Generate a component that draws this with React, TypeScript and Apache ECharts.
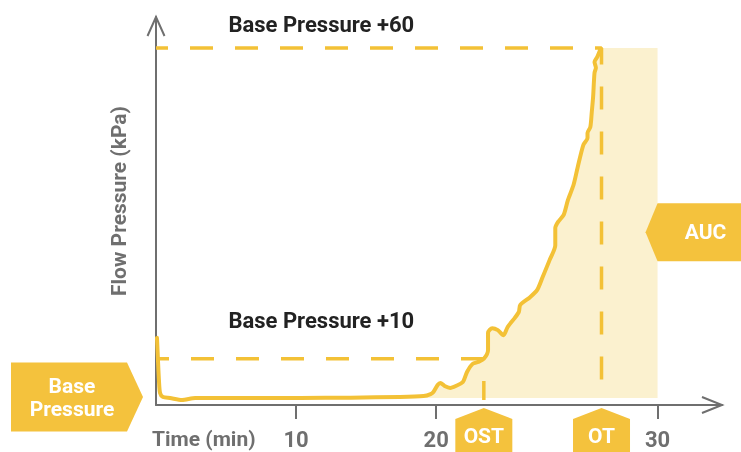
import React, { useEffect, useRef } from 'react';
import * as echarts from 'echarts';

// Schematic axes (no numeric y ticks in the original)
const X_MAX = 40.4;
const Y_MAX = 100;
const BASE = 1.8;
const BASE_PLUS_10 = 11.9;
const BASE_PLUS_60 = 92;
const OST_X = 23.4;
const OT_X = 31.8;
const AUC_END_X = 35.8;
const AUC_LABEL_Y = 44.5;
const DASH_BOTTOM = 1.3;
const LABEL_X = 11.8;
const FILL_START_X = 19;

const TICK_VALUES = [10, 20, 35.8];
const TICK_LABELS = ['10', '20', '30'];

const CURVE_X = [
  0.07, 0.14, 0.21, 0.29, 0.5, 1.0, 1.86, 2.8, 6.7, 10.3, 13.9, 17.4, 19.1, 19.6, 19.8, 20.1,
  20.3, 20.6, 21.0, 21.4, 21.9, 22.2, 22.6, 23.0, 23.4, 23.7, 23.7, 24.0, 24.4, 24.8, 25.1,
  25.6, 25.9, 26.0, 26.7, 27.2, 27.6, 28.1, 28.5, 28.5, 28.7, 29.1, 29.4, 29.8, 30.1, 30.5,
  30.8, 30.8, 31.0, 31.1, 31.2, 31.3, 31.4, 31.3, 31.5, 31.7,
];
const CURVE_Y = [
  17.3, 11.6, 6.4, 3.1, 2.06, 1.8, 1.3, 1.8, 1.8, 1.8, 1.9, 2.06, 2.3, 2.8, 3.35, 5.15,
  5.7, 4.9, 4.4, 4.9, 5.9, 8.5, 10.6, 11.1, 11.9, 14.2, 18.6, 19.8, 19.3, 18.0, 20.1,
  22.4, 24.0, 25.8, 27.8, 29.6, 33.0, 37.4, 41.2, 45.6, 47.2, 49.0, 52.8, 56.7, 61.3, 67.0,
  68.8, 70.1, 71.6, 75.3, 79.4, 85.6, 86.9, 88.4, 89.7, 91.5,
];

const YELLOW = '#F3C136';
const BOX = '#F4C23D';
const FILL = '#FBF1CF';
const GRAY = '#6f6f6f';
const FONT = 'Roboto';

export default function App() {
  const ref = useRef<HTMLDivElement>(null);

  useEffect(() => {
    document.body.style.margin = '0';
    const chart = echarts.init(ref.current!, null, { renderer: 'svg' });

    const curve = CURVE_X.map((x, i) => [x, CURVE_Y[i]]);
    const fill = curve.filter((p) => p[0] >= FILL_START_X);
    fill.push([OT_X, BASE_PLUS_60], [AUC_END_X, BASE_PLUS_60]);

    chart.setOption({
      animation: false,
      grid: { left: 156, right: 19, top: 17, bottom: 47, outerBoundsMode: 'none' },
      xAxis: {
        type: 'value',
        min: 0,
        max: X_MAX,
        splitLine: { show: false },
        axisLine: { show: true, onZero: false, lineStyle: { color: GRAY, width: 2 } },
        axisTick: {
          show: true,
          customValues: TICK_VALUES,
          length: 14,
          lineStyle: { color: GRAY, width: 2 },
        },
        axisLabel: {
          customValues: TICK_VALUES,
          formatter: (v: number) => {
            const i = TICK_VALUES.findIndex((t) => Math.abs(t - v) < 1e-6);
            return i >= 0 ? TICK_LABELS[i] : '';
          },
          margin: 23,
          fontSize: 22,
          fontWeight: 'bold',
          fontFamily: FONT,
          color: GRAY,
        },
      },
      yAxis: {
        type: 'value',
        min: 0,
        max: Y_MAX,
        splitLine: { show: false },
        axisTick: { show: false },
        axisLabel: { show: false },
        axisLine: { show: true, onZero: false, lineStyle: { color: GRAY, width: 2 } },
      },
      series: [
        {
          type: 'line',
          data: fill,
          showSymbol: false,
          smooth: 0.2,
          lineStyle: { width: 0, opacity: 0 },
          areaStyle: { color: FILL, opacity: 1, origin: BASE },
          z: 1,
        },
        {
          type: 'line',
          data: [
            [0, BASE_PLUS_10],
            [OST_X, BASE_PLUS_10],
            [OST_X, DASH_BOTTOM],
          ],
          showSymbol: false,
          lineStyle: { color: YELLOW, width: 3.5, type: [23, 22], dashOffset: 10 },
          z: 2,
        },
        {
          type: 'line',
          data: [
            [0, BASE_PLUS_60],
            [OT_X, BASE_PLUS_60],
            [OT_X, DASH_BOTTOM],
          ],
          showSymbol: false,
          lineStyle: { color: YELLOW, width: 3.5, type: [23, 22], dashOffset: 11 },
          z: 2,
        },
        {
          type: 'line',
          data: curve,
          showSymbol: false,
          smooth: 0.25,
          lineStyle: { color: YELLOW, width: 4, cap: 'round', join: 'round' },
          z: 3,
        },
      ],
    });

    const px = (x: number, y: number) =>
      chart.convertToPixel({ gridIndex: 0 }, [x, y]) as number[];

    const tip = px(0, Y_MAX);
    const end = px(X_MAX, 0);
    const b = px(0, BASE);
    const a = px(AUC_END_X, AUC_LABEL_Y);
    const s = px(OST_X, 0);
    const t = px(OT_X, 0);
    const p60 = px(LABEL_X, BASE_PLUS_60);
    const p10 = px(LABEL_X, BASE_PLUS_10);

    const whiteText = (text: string, x: number, y: number) => ({
      type: 'text',
      x,
      y,
      z: 20,
      style: {
        text,
        fill: '#ffffff',
        font: `bold 21px ${FONT}`,
        align: 'center',
        verticalAlign: 'middle',
      },
    });

    const house = (c: number[]) => ({
      type: 'polygon',
      z: 15,
      shape: {
        points: [
          [c[0], c[1] + 3],
          [c[0] + 28.5, c[1] + 14],
          [c[0] + 28.5, 470],
          [c[0] - 28.5, 470],
          [c[0] - 28.5, c[1] + 14],
        ],
      },
      style: { fill: BOX },
    });

    const cy = b[1] - 1;
    const bt = b[0] - 13;

    chart.setOption({
      graphic: [
        {
          type: 'polyline',
          z: 12,
          shape: { points: [[tip[0] - 8.5, tip[1] + 19], [tip[0], tip[1]], [tip[0] + 8.5, tip[1] + 19]] },
          style: { stroke: GRAY, lineWidth: 2, fill: null },
        },
        {
          type: 'polyline',
          z: 12,
          shape: { points: [[end[0] - 20, end[1] - 8], [end[0], end[1]], [end[0] - 20, end[1] + 8]] },
          style: { stroke: GRAY, lineWidth: 2, fill: null },
        },
        {
          type: 'text',
          x: 119,
          y: 201,
          rotation: Math.PI / 2,
          style: {
            text: 'Flow Pressure (kPa)',
            fill: GRAY,
            font: `bold 21px ${FONT}`,
            align: 'center',
            verticalAlign: 'middle',
          },
        },
        {
          type: 'text',
          x: 152,
          y: 439,
          style: {
            text: 'Time (min)',
            fill: GRAY,
            font: `bold 21px ${FONT}`,
            align: 'left',
            verticalAlign: 'middle',
          },
        },
        {
          type: 'text',
          x: p60[0],
          y: p60[1] - 24,
          style: {
            text: 'Base Pressure +60',
            fill: '#222222',
            font: `bold 22px ${FONT}`,
            align: 'center',
            verticalAlign: 'middle',
          },
        },
        {
          type: 'text',
          x: p10[0],
          y: p10[1] - 38,
          style: {
            text: 'Base Pressure +10',
            fill: '#222222',
            font: `bold 22px ${FONT}`,
            align: 'center',
            verticalAlign: 'middle',
          },
        },
        {
          type: 'polygon',
          z: 15,
          shape: {
            points: [
              [11, cy - 34.5],
              [bt - 16, cy - 34.5],
              [bt, cy],
              [bt - 16, cy + 34.5],
              [11, cy + 34.5],
            ],
          },
          style: { fill: BOX },
        },
        whiteText('Base', 72, cy - 11),
        whiteText('Pressure', 72, cy + 12),
        {
          type: 'polygon',
          z: 15,
          shape: {
            points: [
              [a[0] - 12, a[1]],
              [a[0], a[1] - 29],
              [760, a[1] - 29],
              [760, a[1] + 29],
              [a[0], a[1] + 29],
            ],
          },
          style: { fill: BOX },
        },
        whiteText('AUC', a[0] + 48, a[1]),
        house(s),
        whiteText('OST', s[0], s[1] + 31),
        house(t),
        whiteText('OT', t[0], t[1] + 31),
      ],
    });

    return () => chart.dispose();
  }, []);

  return (
    <div
      ref={ref}
      style={{ position: 'fixed', left: 0, top: 0, width: 741, height: 452 }}
    />
  );
}
